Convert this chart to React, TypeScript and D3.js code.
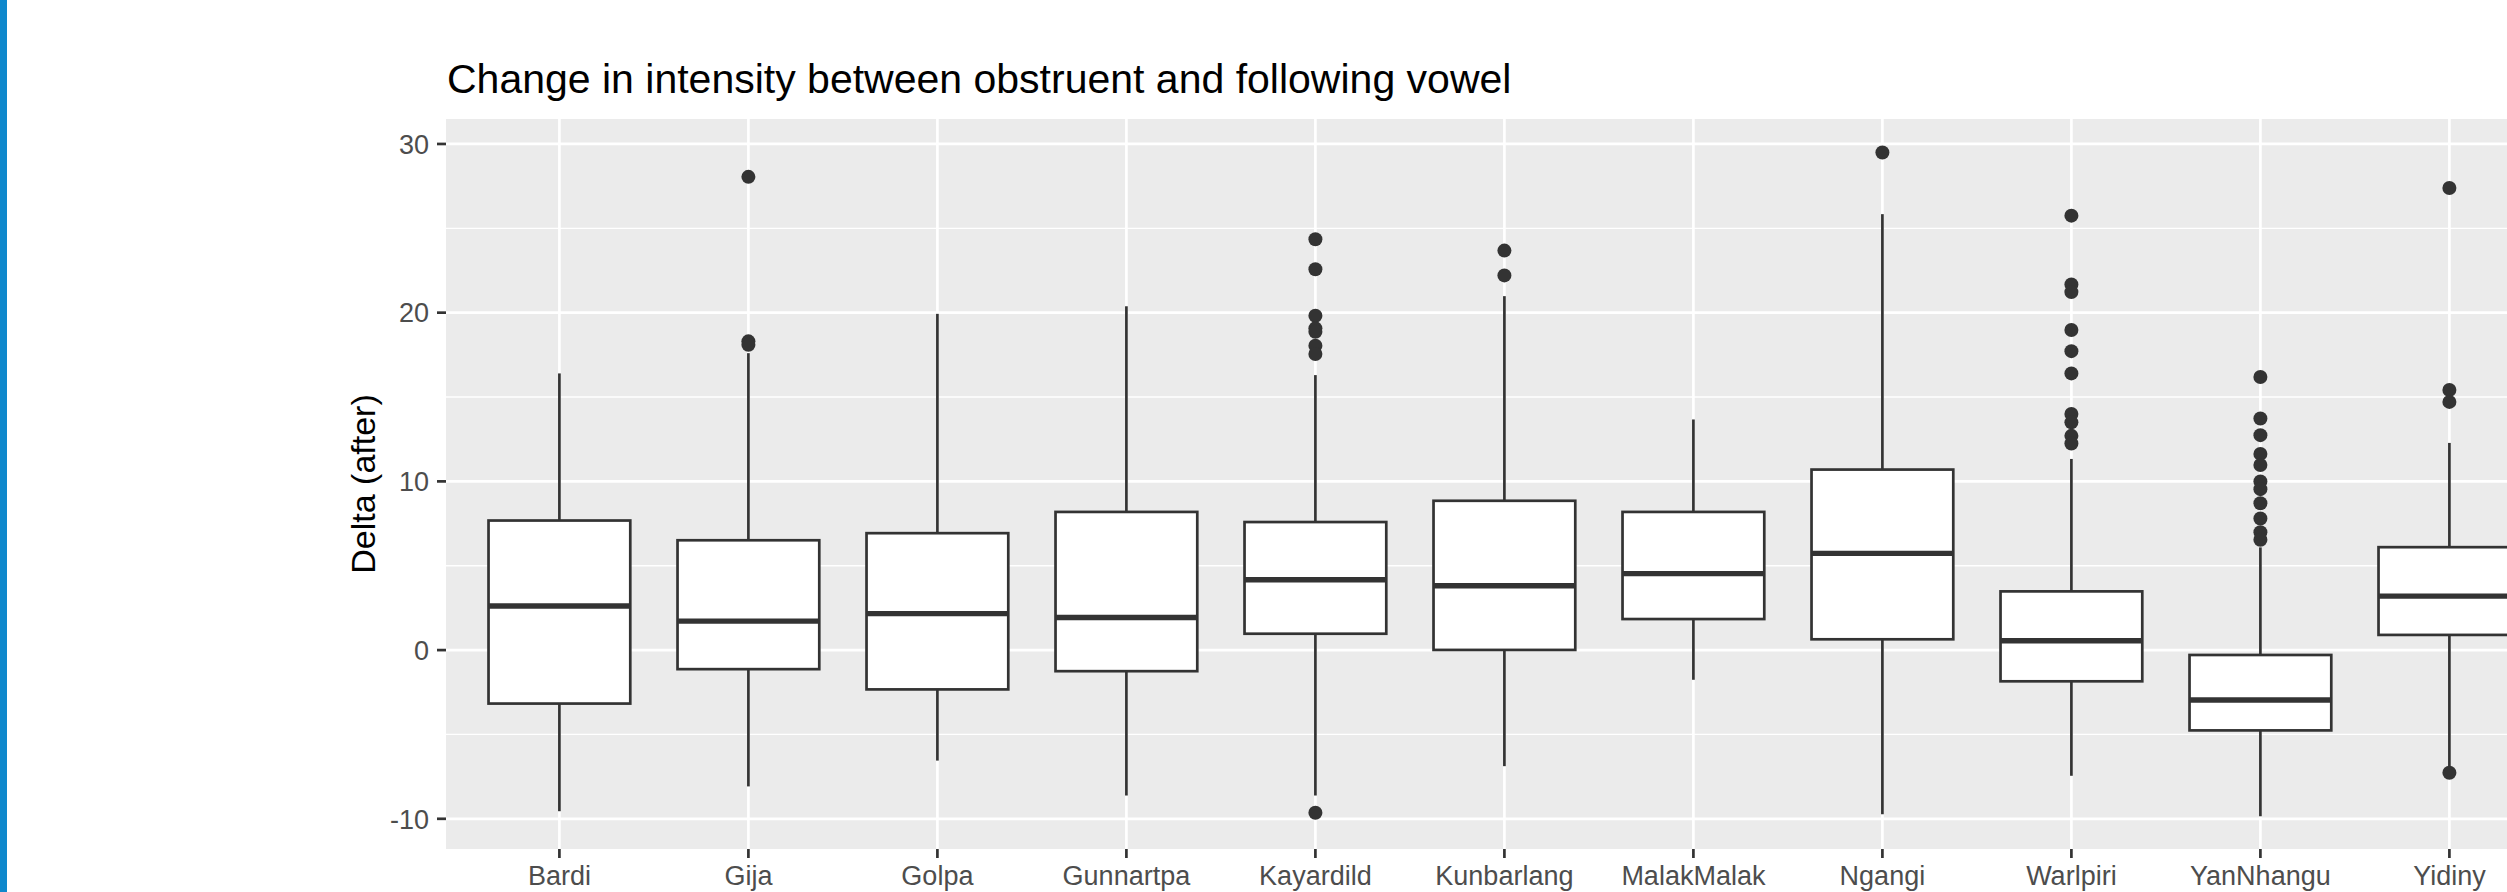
import React, { useRef, useEffect } from 'react';
import * as d3 from 'd3';

// languages along the x axis
const categories = [
  'Bardi', 'Gija', 'Golpa', 'Gunnartpa', 'Kayardild', 'Kunbarlang',
  'MalakMalak', 'Ngangi', 'Warlpiri', 'YanNhangu', 'Yidiny',
];

// box summaries
const whiskerLow = [-9.55, -8.08, -6.55, -8.62, -8.62, -6.88, -1.76, -9.73, -7.45, -9.85, -7.1];
const q1 = [-3.17, -1.13, -2.33, -1.25, 0.97, 0.01, 1.84, 0.64, -1.85, -4.76, 0.9];
const median = [2.61, 1.72, 2.16, 1.93, 4.17, 3.81, 4.53, 5.73, 0.55, -2.96, 3.2];
const q3 = [7.68, 6.51, 6.93, 8.19, 7.59, 8.85, 8.19, 10.7, 3.48, -0.29, 6.1];
const whiskerHigh = [16.4, 17.6, 19.93, 20.38, 16.3, 20.98, 13.67, 25.84, 11.33, 6.09, 12.28];

const outliers = [
  [],
  [28.05, 18.3, 18.1],
  [],
  [],
  [24.35, 22.57, 19.82, 19.07, 18.87, 18.04, 17.55, -9.64],
  [23.68, 22.21],
  [],
  [29.49],
  [25.75, 21.67, 21.22, 18.97, 17.72, 16.4, 14.0, 13.5, 12.7, 12.25],
  [16.19, 13.73, 12.74, 11.63, 10.97, 9.99, 9.54, 8.7, 7.8, 6.99, 6.54],
  [27.39, 15.42, 14.71, -7.27],
];

const yTicks = [-10, 0, 10, 20, 30];
const yMinor = [-5, 5, 15, 25];

const BoxPlot = () => {
  const svgRef = useRef(null);

  useEffect(() => {
    if (!svgRef.current) return;
    const svg = d3.select(svgRef.current);
    svg.selectAll('*').remove();

    const width = 2507;
    const height = 892;
    const font = '"Liberation Sans", Arial, Helvetica, sans-serif';
    const ink = '#333333';

    // panel, the right side runs off the picture like in the original
    const left = 446;
    const top = 119;
    const bottom = 849;
    const step = 189;
    const right = left + step * (categories.length + 0.2);

    const x = d3.scaleLinear().domain([0.4, categories.length + 0.6]).range([left, right]);
    const y = d3.scaleLinear().domain([-11.79, 31.48]).range([bottom, top]);
    const boxW = step * 0.75;

    svg.attr('width', width).attr('height', height);

    svg.append('rect')
      .attr('x', 0).attr('y', 0)
      .attr('width', 7).attr('height', height)
      .attr('fill', '#0e88cc');

    svg.append('rect')
      .attr('x', left).attr('y', top)
      .attr('width', right - left).attr('height', bottom - top)
      .attr('fill', '#ebebeb');

    // grid
    svg.selectAll('.minor')
      .data(yMinor)
      .enter()
      .append('line')
      .attr('x1', left).attr('x2', right)
      .attr('y1', d => y(d)).attr('y2', d => y(d))
      .attr('stroke', '#fff').attr('stroke-width', 1.35);

    svg.selectAll('.major')
      .data(yTicks)
      .enter()
      .append('line')
      .attr('x1', left).attr('x2', right)
      .attr('y1', d => y(d)).attr('y2', d => y(d))
      .attr('stroke', '#fff').attr('stroke-width', 2.7);

    svg.selectAll('.vgrid')
      .data(categories)
      .enter()
      .append('line')
      .attr('x1', (d, i) => x(i + 1)).attr('x2', (d, i) => x(i + 1))
      .attr('y1', top).attr('y2', bottom)
      .attr('stroke', '#fff').attr('stroke-width', 2.7);

    // boxes
    const g = svg.selectAll('.box')
      .data(categories)
      .enter()
      .append('g');

    g.append('line')
      .attr('x1', (d, i) => x(i + 1)).attr('x2', (d, i) => x(i + 1))
      .attr('y1', (d, i) => y(q3[i])).attr('y2', (d, i) => y(whiskerHigh[i]))
      .attr('stroke', ink).attr('stroke-width', 2.7);

    g.append('line')
      .attr('x1', (d, i) => x(i + 1)).attr('x2', (d, i) => x(i + 1))
      .attr('y1', (d, i) => y(q1[i])).attr('y2', (d, i) => y(whiskerLow[i]))
      .attr('stroke', ink).attr('stroke-width', 2.7);

    g.append('rect')
      .attr('x', (d, i) => x(i + 1) - boxW / 2)
      .attr('y', (d, i) => y(q3[i]))
      .attr('width', boxW)
      .attr('height', (d, i) => y(q1[i]) - y(q3[i]))
      .attr('fill', '#fff')
      .attr('stroke', ink).attr('stroke-width', 2.7);

    g.append('line')
      .attr('x1', (d, i) => x(i + 1) - boxW / 2).attr('x2', (d, i) => x(i + 1) + boxW / 2)
      .attr('y1', (d, i) => y(median[i])).attr('y2', (d, i) => y(median[i]))
      .attr('stroke', ink).attr('stroke-width', 5.4);

    g.each(function (d, i) {
      d3.select(this).selectAll('circle')
        .data(outliers[i])
        .enter()
        .append('circle')
        .attr('cx', x(i + 1))
        .attr('cy', v => y(v))
        .attr('r', 7)
        .attr('fill', ink);
    });

    // y axis
    svg.selectAll('.ytick')
      .data(yTicks)
      .enter()
      .append('line')
      .attr('x1', left - 9).attr('x2', left)
      .attr('y1', d => y(d)).attr('y2', d => y(d))
      .attr('stroke', ink).attr('stroke-width', 2.7);

    svg.selectAll('.ylab')
      .data(yTicks)
      .enter()
      .append('text')
      .attr('x', left - 17)
      .attr('y', d => y(d))
      .attr('dy', '0.36em')
      .attr('text-anchor', 'end')
      .style('font-family', font)
      .style('font-size', '27px')
      .style('fill', '#4d4d4d')
      .text(d => d);

    // x axis
    svg.selectAll('.xtick')
      .data(categories)
      .enter()
      .append('line')
      .attr('x1', (d, i) => x(i + 1)).attr('x2', (d, i) => x(i + 1))
      .attr('y1', bottom).attr('y2', bottom + 9)
      .attr('stroke', ink).attr('stroke-width', 2.7);

    svg.selectAll('.xlab')
      .data(categories)
      .enter()
      .append('text')
      .attr('x', (d, i) => x(i + 1))
      .attr('y', 885)
      .attr('text-anchor', 'middle')
      .style('font-family', font)
      .style('font-size', '27px')
      .style('fill', '#4d4d4d')
      .text(d => d);

    // titles
    svg.append('text')
      .attr('transform', `translate(375, ${(top + bottom) / 2}) rotate(-90)`)
      .attr('text-anchor', 'middle')
      .style('font-family', font)
      .style('font-size', '34px')
      .style('fill', '#000')
      .text('Delta (after)');

    svg.append('text')
      .attr('x', left + 1)
      .attr('y', 93)
      .style('font-family', font)
      .style('font-size', '41px')
      .style('fill', '#000')
      .text('Change in intensity between obstruent and following vowel');
  }, []);

  return (
    <div style={{ position: 'absolute', left: 0, top: 0, width: 2507, height: 892, overflow: 'hidden' }}>
      <svg ref={svgRef} style={{ display: 'block' }}></svg>
    </div>
  );
};

export default function App() {
  return <BoxPlot />;
}
